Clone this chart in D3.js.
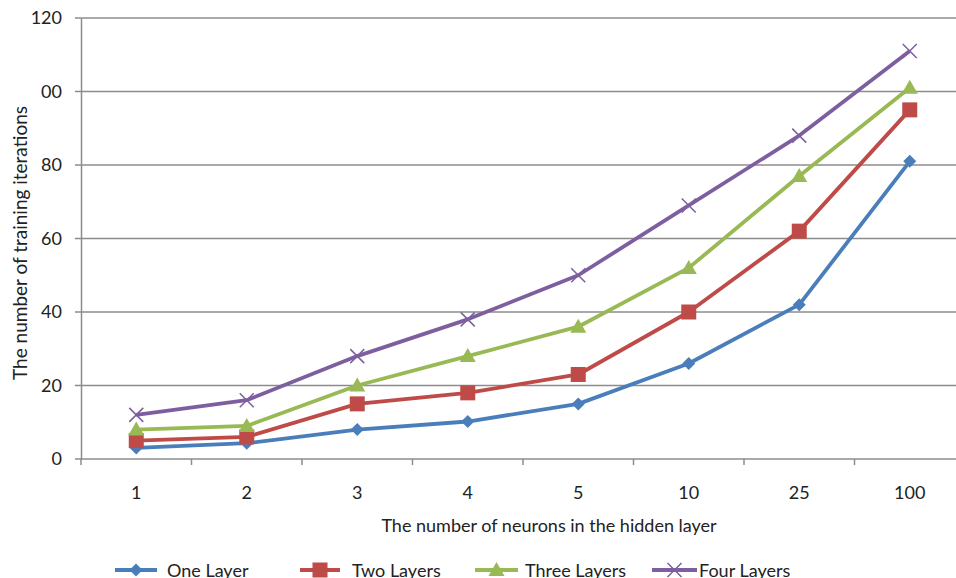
<!DOCTYPE html>
<html><head><meta charset="utf-8">
<script src="https://cdn.jsdelivr.net/npm/d3@7"></script>
<style>body{margin:0;background:#fff}svg{display:block}text{font-family:Lato,"Open Sans",sans-serif}</style>
</head><body><svg id="c" width="956" height="578"></svg>
<script>
const categories = ["1","2","3","4","5","10","25","100"];
const oneLayer   = [3, 4.3, 8, 10.2, 15, 26, 42, 81];
const twoLayers  = [5, 6, 15, 18, 23, 40, 62, 95];
const threeLayers= [8, 9, 20, 28, 36, 52, 77, 101];
const fourLayers = [12, 16, 28, 38, 50, 69, 88, 111];
const seriesNames = ["One Layer","Two Layers","Three Layers","Four Layers"];
const yTickValues = [0,20,40,60,80,100,120];
const yTickLabels = ["0","20","40","60","80","00","120"];

const series = [
  {name: seriesNames[0], values: oneLayer, color: "#4a7ebb", marker: "diamond"},
  {name: seriesNames[1], values: twoLayers, color: "#be4b48", marker: "square"},
  {name: seriesNames[2], values: threeLayers, color: "#98b954", marker: "triangle"},
  {name: seriesNames[3], values: fourLayers, color: "#7d5fa0", marker: "x"}
];

const svg = d3.select("#c");
const L = 81, R = 965, T = 18, B = 459;
const FS = 18;
const x = d3.scaleBand().domain(categories).range([L, R]);
const y = d3.scaleLinear().domain([0,120]).range([B, T]);
const g = svg.append("g");

// gridlines
g.selectAll(".grid").data(yTickValues).join("line")
  .attr("x1", L-6).attr("x2", R).attr("y1", d=>y(d)).attr("y2", d=>y(d))
  .attr("stroke", "#8c8c8c").attr("stroke-width", 1.5);

// y axis
const yAxis = d3.axisLeft(y).tickValues(yTickValues).tickFormat((d,i)=>yTickLabels[i]).tickSize(0).tickPadding(19);
const ya = g.append("g").attr("transform", `translate(${L},0)`).call(yAxis);
ya.select(".domain").attr("stroke","#8c8c8c").attr("stroke-width",1.5);
ya.selectAll("text").attr("font-size", FS).attr("fill", "#222").attr("font-family","Lato");

// x axis
const xAxis = d3.axisBottom(x).tickSize(0);
const xa = g.append("g").attr("transform", `translate(0,${B})`).call(xAxis);
xa.select(".domain").remove();
xa.selectAll("text").attr("font-size", FS).attr("fill", "#222").attr("font-family","Lato").attr("dy", 0).attr("y", 40);
// band separator ticks
g.selectAll(".xt").data(categories).join("line")
  .attr("x1", d=>x(d)).attr("x2", d=>x(d)).attr("y1", B).attr("y2", B+6)
  .attr("stroke","#8c8c8c").attr("stroke-width",1.5);

const cx = d => x(d) + x.bandwidth()/2;

function drawMarker(sel, type, color, px, py) {
  if (type === "diamond") {
    sel.append("path").attr("d", `M${px},${py-6.5}L${px+6.5},${py}L${px},${py+6.5}L${px-6.5},${py}Z`).attr("fill", color);
  } else if (type === "square") {
    sel.append("rect").attr("x", px-7.5).attr("y", py-7.5).attr("width", 15).attr("height", 15).attr("fill", color);
  } else if (type === "triangle") {
    sel.append("path").attr("d", `M${px},${py-8}L${px+8},${py+6}L${px-8},${py+6}Z`).attr("fill", color);
  } else {
    sel.append("path").attr("d", `M${px-7},${py-7}L${px+7},${py+7}M${px-7},${py+7}L${px+7},${py-7}`).attr("stroke", color).attr("stroke-width", 1.5);
  }
}

const line = d3.line().x((d,i)=>cx(categories[i])).y(d=>y(d));
series.forEach(s => {
  const sg = g.append("g");
  sg.append("path").attr("d", line(s.values)).attr("fill","none").attr("stroke", s.color).attr("stroke-width", 3.8).attr("stroke-linejoin","round");
  s.values.forEach((v,i) => drawMarker(sg, s.marker, s.color, cx(categories[i]), y(v)));
});

// axis titles
svg.append("text").attr("transform", `translate(27,${243}) rotate(-90)`).attr("text-anchor","middle")
  .attr("font-size", 19).attr("fill","#222").text("The number of training iterations");
svg.append("text").attr("x", 549).attr("y", 532).attr("text-anchor","middle")
  .attr("font-size", FS).attr("fill","#222").text("The number of neurons in the hidden layer");

// legend
const legendPos = [{lx:115, lx2:157, tx:167},{lx:300, lx2:340, tx:352},{lx:475, lx2:518, tx:525},{lx:652, lx2:697, tx:699}];
const legendY = 570;
series.forEach((s,i) => {
  const p = legendPos[i];
  const lg = svg.append("g");
  lg.append("line").attr("x1", p.lx).attr("x2", p.lx2).attr("y1", legendY).attr("y2", legendY).attr("stroke", s.color).attr("stroke-width", 3.8);
  drawMarker(lg, s.marker, s.color, (p.lx + p.lx2)/2, legendY);
  lg.append("text").attr("x", p.tx).attr("y", 577).attr("font-size", FS).attr("fill","#222").text(s.name);
});
</script></body></html>
